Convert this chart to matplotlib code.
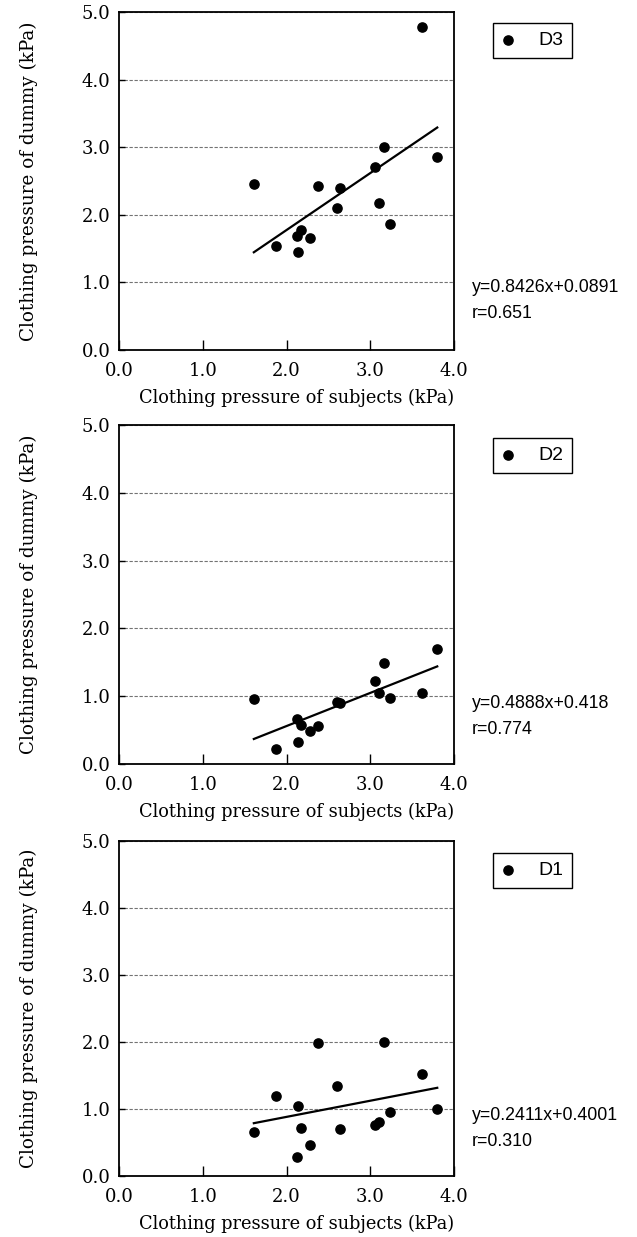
"""
Clothing pressure of dummies D3 / D2 / D1 vs. subjects, with linear fits
"""

import matplotlib
matplotlib.use('Agg')
import matplotlib.pyplot as plt

# clothing pressure of the 15 subjects (kPa), shared by all three panels
subject_x = [1.61, 1.87, 2.13, 2.14, 2.17, 2.28, 2.38, 2.60, 2.64, 3.06, 3.10, 3.17, 3.23, 3.62, 3.80]

# clothing pressure measured on each dummy (kPa)
dummy_d3 = [2.45, 1.54, 1.68, 1.45, 1.78, 1.65, 2.42, 2.10, 2.40, 2.70, 2.18, 3.00, 1.87, 4.78, 2.86]
dummy_d2 = [0.96, 0.22, 0.67, 0.33, 0.57, 0.49, 0.56, 0.92, 0.90, 1.22, 1.05, 1.49, 0.98, 1.05, 1.70]
dummy_d1 = [0.66, 1.20, 0.28, 1.05, 0.72, 0.47, 1.98, 1.35, 0.70, 0.76, 0.81, 2.00, 0.96, 1.52, 1.00]

# fitted lines as drawn (the D2 line in the original runs with a negative intercept,
# although the printed label says +0.418)
dummy_names = ['D3', 'D2', 'D1']
slopes = [0.8426, 0.4888, 0.2411]
intercepts = [0.0891, -0.418, 0.4001]
eq_labels = ['y=0.8426x+0.0891', 'y=0.4888x+0.418', 'y=0.2411x+0.4001']
r_labels = ['r=0.651', 'r=0.774', 'r=0.310']

x_ticks = [0.0, 1.0, 2.0, 3.0, 4.0]
y_ticks = [0.0, 1.0, 2.0, 3.0, 4.0, 5.0]

SERIF = ['DejaVu Serif']
SANS = ['Liberation Sans', 'DejaVu Sans']

W, H = 637, 1237


def px_box(left, top, right, bottom):
    # pixel box -> figure fraction rect
    return [left / W, 1 - bottom / H, (right - left) / W, (bottom - top) / H]


def make_figure():
    fig = plt.figure(figsize=(W / 100, H / 100), dpi=100)
    fig.patch.set_facecolor('white')

    panel_boxes = [(119, 12, 454, 350), (119, 425, 454, 764), (119, 841, 454, 1176)]
    legend_tops = [23, 438, 853]
    eq_centers = [288, 703, 1115]
    all_y = [dummy_d3, dummy_d2, dummy_d1]

    for i, box in enumerate(panel_boxes):
        ax = fig.add_axes(px_box(*box))
        ys = all_y[i]
        ax_h = box[3] - box[1]

        ax.scatter(subject_x, ys, s=44, color='black', zorder=5, label=dummy_names[i])

        # fitted line over the range of subjects
        x0, x1 = min(subject_x), max(subject_x)
        ax.plot([x0, x1], [slopes[i] * x0 + intercepts[i], slopes[i] * x1 + intercepts[i]],
                color='black', linewidth=1.6, zorder=4)

        ax.set_xlim(0, 4)
        ax.set_ylim(0, 5)
        ax.set_xticks(x_ticks)
        ax.set_yticks(y_ticks)
        ax.set_xticklabels([f'{v:.1f}' for v in x_ticks], family=SERIF, fontsize=13)
        ax.set_yticklabels([f'{v:.1f}' for v in y_ticks], family=SERIF, fontsize=13)
        ax.tick_params(axis='x', direction='in', length=7, width=1, pad=9)
        ax.tick_params(axis='y', direction='in', length=4, width=1, pad=6)

        ax.yaxis.grid(True, linestyle=(0, (3, 1.5)), color='0.45', linewidth=0.8)
        ax.set_axisbelow(True)
        for sp in ax.spines.values():
            sp.set_linewidth(1.3)

        ax.set_xlabel('Clothing pressure of subjects (kPa)', family=SERIF, fontsize=12.8)
        ax.xaxis.set_label_coords(0.531, -39 / ax_h)
        ax.set_ylabel('Clothing pressure of dummy (kPa)', family=SERIF, fontsize=13.2)
        ax.yaxis.set_label_coords(-81 / 335, 0.5)

        leg = ax.legend(loc='upper left', bbox_to_anchor=(492.7 / W, 1 - legend_tops[i] / H),
                        bbox_transform=fig.transFigure, borderaxespad=0,
                        prop={'family': SANS, 'size': 14}, handlelength=0.7, handletextpad=1.2,
                        borderpad=0.45, fancybox=False, framealpha=1, edgecolor='black',
                        scatterpoints=1)
        leg.get_frame().set_linewidth(1.0)

        fig.text(472 / W, 1 - eq_centers[i] / H, eq_labels[i], family=SANS, fontsize=12.8,
                 va='center', ha='left')
        fig.text(472 / W, 1 - (eq_centers[i] + 26) / H, r_labels[i], family=SANS, fontsize=12.8,
                 va='center', ha='left')

    return fig


if __name__ == "__main__":
    fig = make_figure()
    fig.savefig('out.png', dpi=100, facecolor='white')
    plt.close(fig)
